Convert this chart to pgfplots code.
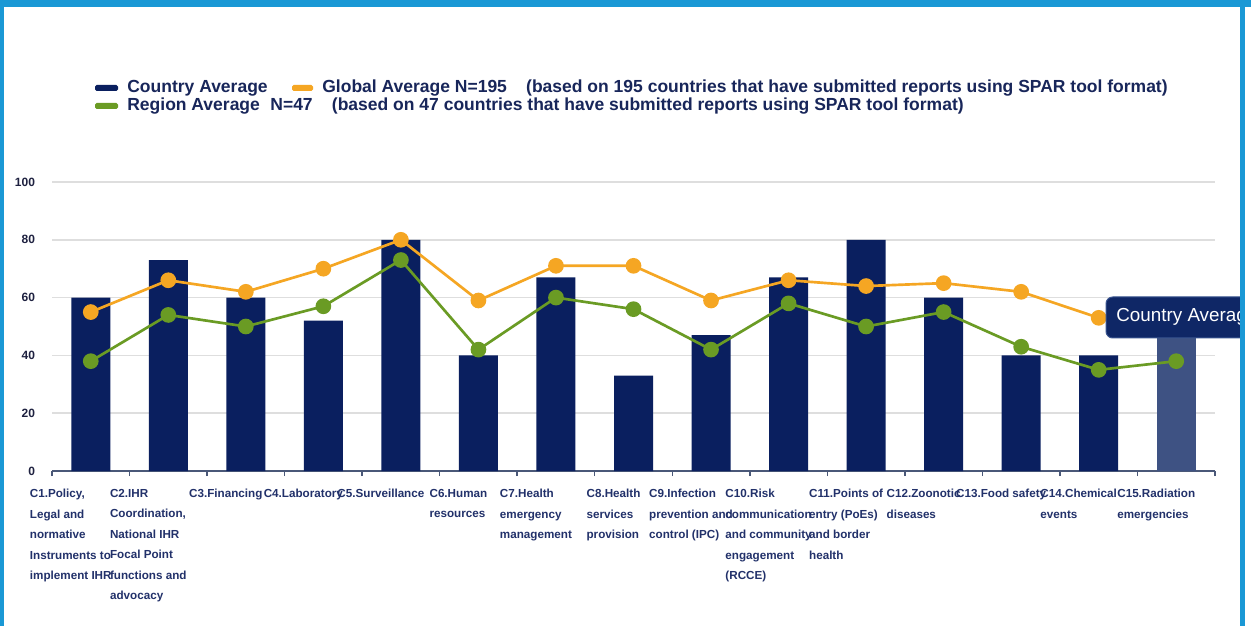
\documentclass[border=0pt]{standalone}
\usepackage{pgfplots}
\pgfplotsset{compat=1.18}
\usepackage{fontspec}
\setmainfont{Liberation Sans}

\definecolor{navybar}{HTML}{0A1F5F}
\definecolor{hoverbar}{HTML}{3E5283}
\definecolor{globalc}{HTML}{F5A623}
\definecolor{regionc}{HTML}{6A9B24}
\definecolor{framec}{HTML}{1A98D5}
\definecolor{gridc}{HTML}{DEDEDE}
\definecolor{axisc}{HTML}{4A5878}
\definecolor{labelc}{HTML}{22316A}
\definecolor{legtext}{HTML}{18265A}
\definecolor{ytext}{HTML}{1E2140}
\definecolor{tipfill}{HTML}{0F2766}
\definecolor{tipdraw}{HTML}{3A5590}

\begin{document}
\begin{tikzpicture}[x=0.6pt,y=0.6pt]
\path[use as bounding box] (0,0) rectangle (1251,626);
\fill[white] (0,0) rectangle (1251,626);

\begin{axis}[
  at={(31.2pt,93pt)}, anchor=south west,
  scale only axis, width=697.8pt, height=173.4pt,
  xmin=-0.5, xmax=14.5, ymin=0, ymax=100,
  axis x line*=bottom, axis y line*=left,
  y axis line style={draw=none},
  x axis line style={draw=axisc, line width=0.9pt, -},
  ytick={0,20,...,100},
  ymajorgrids, grid style={gridc, line width=0.9pt},
  major tick length=0pt,
  minor tick length=3pt,
  tick align=outside,
  xtick={0,...,14},
  xticklabels={
    {C1.Policy,\\Legal and\\normative\\Instruments to\\implement IHR},
    {C2.IHR\\Coordination,\\National IHR\\Focal Point\\functions and\\advocacy},
    {C3.Financing},
    {C4.Laboratory},
    {C5.Surveillance},
    {C6.Human\\resources},
    {C7.Health\\emergency\\management},
    {C8.Health\\services\\provision},
    {C9.Infection\\prevention and\\control (IPC)},
    {C10.Risk\\communication\\and community\\engagement\\(RCCE)},
    {C11.Points of\\entry (PoEs)\\and border\\health},
    {C12.Zoonotic\\diseases},
    {C13.Food safety},
    {C14.Chemical\\events},
    {C15.Radiation\\emergencies}},
  minor xtick={-0.5,0.5,...,14.5},
  minor x tick style={draw=axisc, line width=0.9pt},
  xticklabel style={font=\bfseries\fontsize{7}{12.3}\selectfont, text=labelc,
    align=left, anchor=north, inner sep=0pt, xshift=-12pt, yshift=-10.8pt},
  /pgf/number format/assume math mode=true,
  yticklabel style={font=\bfseries\fontsize{7.2}{8}\selectfont, text=ytext,
    anchor=east, inner sep=0pt, xshift=-10pt},
  clip=false,
]
% Country average (C15 shown highlighted)
\addplot[ybar, bar width=23.4pt, bar shift=0pt, fill=navybar, draw=none]
  coordinates {(0,60) (1,73) (2,60) (3,52) (4,80) (5,40) (6,67) (7,33)
               (8,47) (9,67) (10,80) (11,60) (12,40) (13,40)};
\addplot[ybar, bar width=23.4pt, bar shift=0pt, fill=hoverbar, draw=none]
  coordinates {(14,47)};
% Global average N=195
\addplot[globalc, line width=1.6pt, mark=*, mark size=3.9pt,
  mark options={fill=globalc, draw=none}]
  coordinates {(0,55) (1,66) (2,62) (3,70) (4,80) (5,59) (6,71) (7,71)
               (8,59) (9,66) (10,64) (11,65) (12,62) (13,53) (14,55)};
% Region average N=47
\addplot[regionc, line width=1.6pt, mark=*, mark size=3.9pt,
  mark options={fill=regionc, draw=none}]
  coordinates {(0,38) (1,54) (2,50) (3,57) (4,73) (5,42) (6,60) (7,56)
               (8,42) (9,58) (10,50) (11,55) (12,43) (13,35) (14,38)};
\end{axis}

% legend
\begin{scope}[font=\bfseries\fontsize{10.5}{12}\selectfont, text=legtext]
  \fill[navybar, rounded corners=1pt] (95,535) rectangle (118,541);
  \node[anchor=west, inner sep=0pt] at (127,538) {Country Average};
  \fill[globalc, rounded corners=1pt] (292,535) rectangle (313,541);
  \node[anchor=west, inner sep=0pt] at (322,538)
    {Global Average N=195\hspace{1.1em}(based on 195 countries that have submitted reports using SPAR tool format)};
  \fill[regionc, rounded corners=1pt] (95,517) rectangle (118,523);
  \node[anchor=west, inner sep=0pt] at (127,520)
    {Region Average\hspace{0.6em}N=47\hspace{1.1em}(based on 47 countries that have submitted reports using SPAR tool format)};
\end{scope}

% hover tooltip, running off the right edge of the panel
\begin{scope}
  \clip (1000,200) rectangle (1242,400);
  \filldraw[fill=tipfill, draw=tipdraw, line width=0.6pt, rounded corners=4pt]
    (1106,288) rectangle (1290,329);
\end{scope}
\node[anchor=west, inner sep=0pt, text=white,
  font=\fontsize{11.3}{13}\selectfont] at (1116,309) {Country Averag};

% frame
\fill[framec] (0,619) rectangle (1251,626);
\fill[framec] (0,0) rectangle (4,619);
\fill[framec] (1240,0) rectangle (1245,619);
\end{tikzpicture}
\end{document}
